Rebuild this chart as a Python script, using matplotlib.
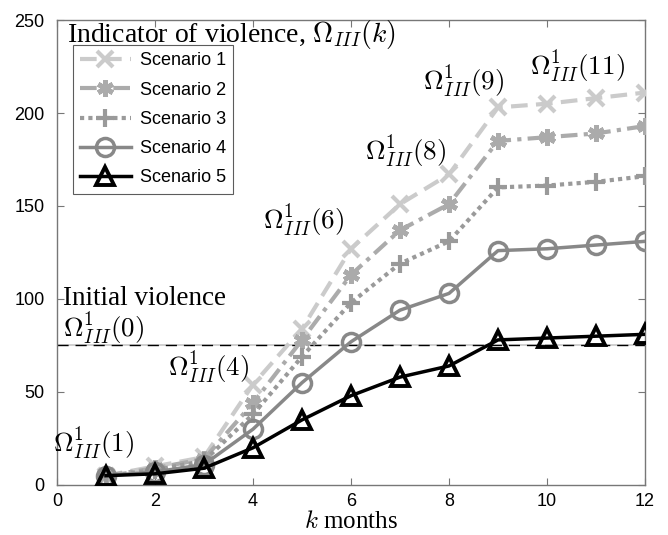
import numpy as np
import matplotlib
matplotlib.use("Agg")
import matplotlib.pyplot as plt

plt.rcParams['mathtext.fontset'] = 'cm'
plt.rcParams['font.family'] = 'Liberation Sans'

# ─── DATA ────────────────────────────────────────────────────────────────────
k = [1, 2, 3, 4, 5, 6, 7, 8, 9, 10, 11, 12]
s1 = [5, 10, 15, 54, 84, 127, 151, 167, 203, 205, 208, 211]
s2 = [5, 9, 14, 44, 78, 113, 137, 151, 185, 187, 189, 193]
s3 = [5, 8, 13, 38, 69, 98, 119, 131, 160, 161, 163, 166]
s4 = [5, 7, 11, 30, 55, 77, 94, 103, 126, 127, 129, 131]
s5 = [5, 6, 9, 20, 35, 48, 58, 64, 78, 79, 80, 81]
initial = 75
labels = ['Scenario 1', 'Scenario 2', 'Scenario 3', 'Scenario 4', 'Scenario 5']
xticks = [0, 2, 4, 6, 8, 10, 12]
yticks = [0, 50, 100, 150, 200, 250]

fig = plt.figure(figsize=(6.68, 5.35), dpi=100)
ax = fig.add_axes([0.0853, 0.0935, 0.8803, 0.8691])

ax.axhline(initial, color='#c8c8c8', lw=1.2, zorder=1)
ax.axhline(initial, color='black', lw=1.0, ls=(0, (8, 5)), zorder=1)

ax.plot(k, s1, color='#cbcbcb', lw=3, ls=(0, (4, 2)), marker='x',
        ms=12, mew=3, label=labels[0], zorder=3)
ax.plot(k, s2, color='#ababab', lw=3, ls=(0, (4, 1.5, 1, 1.5)), marker=(6, 2, 0),
        ms=12, mew=3.5, label=labels[1], zorder=3)
ax.plot(k, s3, color='#9a9a9a', lw=3, ls=(0, (1, 1)), marker='+',
        ms=13, mew=3, label=labels[2], zorder=3)
ax.plot(k, s4, color='#888888', lw=2.5, ls='-', marker='o', mfc='none',
        ms=13, mew=2.5, label=labels[3], zorder=4)
ax.plot(k, s5, color='black', lw=2.5, ls='-', marker='^', mfc='none',
        ms=13, mew=2.8, label=labels[4], zorder=5)

ax.set_xlim(0, 12)
ax.set_ylim(0, 250)
ax.set_xticks(xticks)
ax.set_yticks(yticks)
ax.tick_params(direction='in', top=True, right=True, length=5, width=0.8,
               color='#777777', labelsize=13, pad=9)
ax.tick_params(axis='x', pad=6)
for sp in ax.spines.values():
    sp.set_edgecolor('#777777')
    sp.set_linewidth(1.0)

ax.set_xlabel(r'$k$ months', fontsize=18, family='Liberation Serif')
ax.xaxis.set_label_coords(0.5, -0.057)

serif = dict(family='Liberation Serif', color='black', fontsize=19.5,
             va='center', ha='left')
ax.text(0.2, 242, r'Indicator of violence, $\Omega_{III}(k)$',
        **{**serif, 'fontsize': 20})
ax.text(0.12, 100, 'Initial violence', **serif)
ax.text(0.12, 84, r'$\Omega^1_{III}(0)$', **serif)
ax.text(2.27, 63, r'$\Omega^1_{III}(4)$', **serif)
ax.text(-0.08, 22.5, r'$\Omega^1_{III}(1)$', **serif)
ax.text(4.2, 142, r'$\Omega^1_{III}(6)$', **serif)
ax.text(6.29, 179, r'$\Omega^1_{III}(8)$', **serif)
ax.text(7.47, 217, r'$\Omega^1_{III}(9)$', **serif)
ax.text(9.65, 225, r'$\Omega^1_{III}(11)$', **serif)

leg = ax.legend(loc='upper left', bbox_to_anchor=(0.027, 0.946), fontsize=13,
                frameon=True, fancybox=False, edgecolor='#333333',
                borderaxespad=0, handlelength=2.8, borderpad=0.4,
                labelspacing=0.68, handletextpad=0.5)
leg.get_frame().set_linewidth(0.8)

fig.savefig('out.png', dpi=100)
